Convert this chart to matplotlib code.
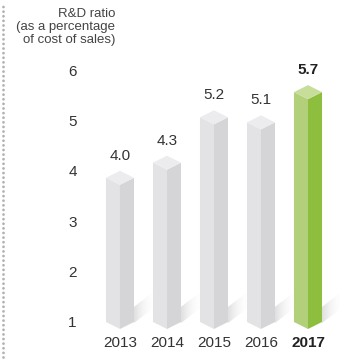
import numpy as np
import matplotlib
matplotlib.use('Agg')
import matplotlib.pyplot as plt
import matplotlib.patches as patches
from matplotlib.lines import Line2D

plt.rcParams['font.family'] = ['Liberation Sans', 'DejaVu Sans']

# Data
years = ['2013', '2014', '2015', '2016', '2017']
ratio = [4.0, 4.3, 5.2, 5.1, 5.7]
value_labels = ['4.0', '4.3', '5.2', '5.1', '5.7']
yticks = [1, 2, 3, 4, 5, 6]

# Colours (left face, right face, top)
grey = ('#e3e3e5', '#d5d5d7', '#ececee')
green = ('#b2d07a', '#8dbe3e', '#c6de99')
txt = '#333333'

W, H = 340, 359
fig = plt.figure(figsize=(W / 100, H / 100), dpi=100)
ax = fig.add_axes([90 / W, 29 / H, 250 / W, 330 / H])
ax.set_xlim(-0.638, 4.681)
ax.set_ylim(0.841, 7.389)
for s in ax.spines.values():
    s.set_visible(False)

base = 1.0
hw = 0.298   # half bar width (data units)
dy = 0.139   # half diamond height (data units)

# soft shadow gradient: strongest next to the bar foot, fading out to the right
gx = np.linspace(1, 0, 60)
shade = np.tile(gx, (30, 1)) ** 2

for i, v in enumerate(ratio):
    c = i
    cols = green if i == len(ratio) - 1 else grey
    xr = c + hw
    sw, sh_h = 0.45, 0.62
    sh = patches.Polygon([(xr, base - 0.02), (xr, base + 0.3), (xr + sw, base + sh_h),
                          (xr + sw, base + 0.3)], closed=True,
                         facecolor='none', edgecolor='none')
    ax.add_patch(sh)
    im = ax.imshow(np.full_like(shade, 0.35), extent=(xr, xr + sw, base - 0.02, base + sh_h),
                   cmap='Greys', vmin=-0.3, vmax=1.0, alpha=shade * 0.3,
                   aspect='auto', zorder=1, interpolation='bilinear')
    im.set_clip_path(sh)
    left = [(c - hw, base), (c - hw, v - dy), (c, v - 2 * dy), (c, base - dy)]
    right = [(c, base - dy), (c, v - 2 * dy), (c + hw, v - dy), (c + hw, base)]
    top = [(c - hw, v - dy), (c, v), (c + hw, v - dy), (c, v - 2 * dy)]
    ax.add_patch(patches.Polygon(left, closed=True, facecolor=cols[0], edgecolor='none', zorder=3))
    ax.add_patch(patches.Polygon(right, closed=True, facecolor=cols[1], edgecolor='none', zorder=3))
    ax.add_patch(patches.Polygon(top, closed=True, facecolor=cols[2], edgecolor='none', zorder=3))
    bold = i == len(ratio) - 1
    ax.annotate(value_labels[i], (c, v), xytext=(0, 8), textcoords='offset points',
                ha='center', va='baseline', fontsize=11,
                fontweight='bold' if bold else 'normal',
                color='#222222' if bold else txt)

ax.set_xticks(range(len(years)))
ax.set_xticklabels(years, fontsize=11, color=txt)
ax.get_xticklabels()[-1].set_fontweight('bold')
ax.get_xticklabels()[-1].set_color('#222222')
ax.set_yticks(yticks)
ax.set_yticklabels([str(t) for t in yticks], fontsize=11, color=txt)
ax.tick_params(axis='x', length=0, pad=4.5)
ax.tick_params(axis='y', length=0, pad=9.5)
ax.set_facecolor('none')

fig.text(115 / W, 1 - 8 / H, 'R&D ratio\n(as a percentage\nof cost of sales)',
         ha='right', va='top', fontsize=9.5, color='#444444', linespacing=1.1,
         multialignment='right')

# dotted border on the left
fig.add_artist(Line2D([3 / W, 3 / W], [2 / H, 357 / H], transform=fig.transFigure,
                      color='#b0b0b0', linewidth=2.0, linestyle=(0, (0.01, 1.65)),
                      dash_capstyle='round'))

fig.savefig('out.png', dpi=100)
